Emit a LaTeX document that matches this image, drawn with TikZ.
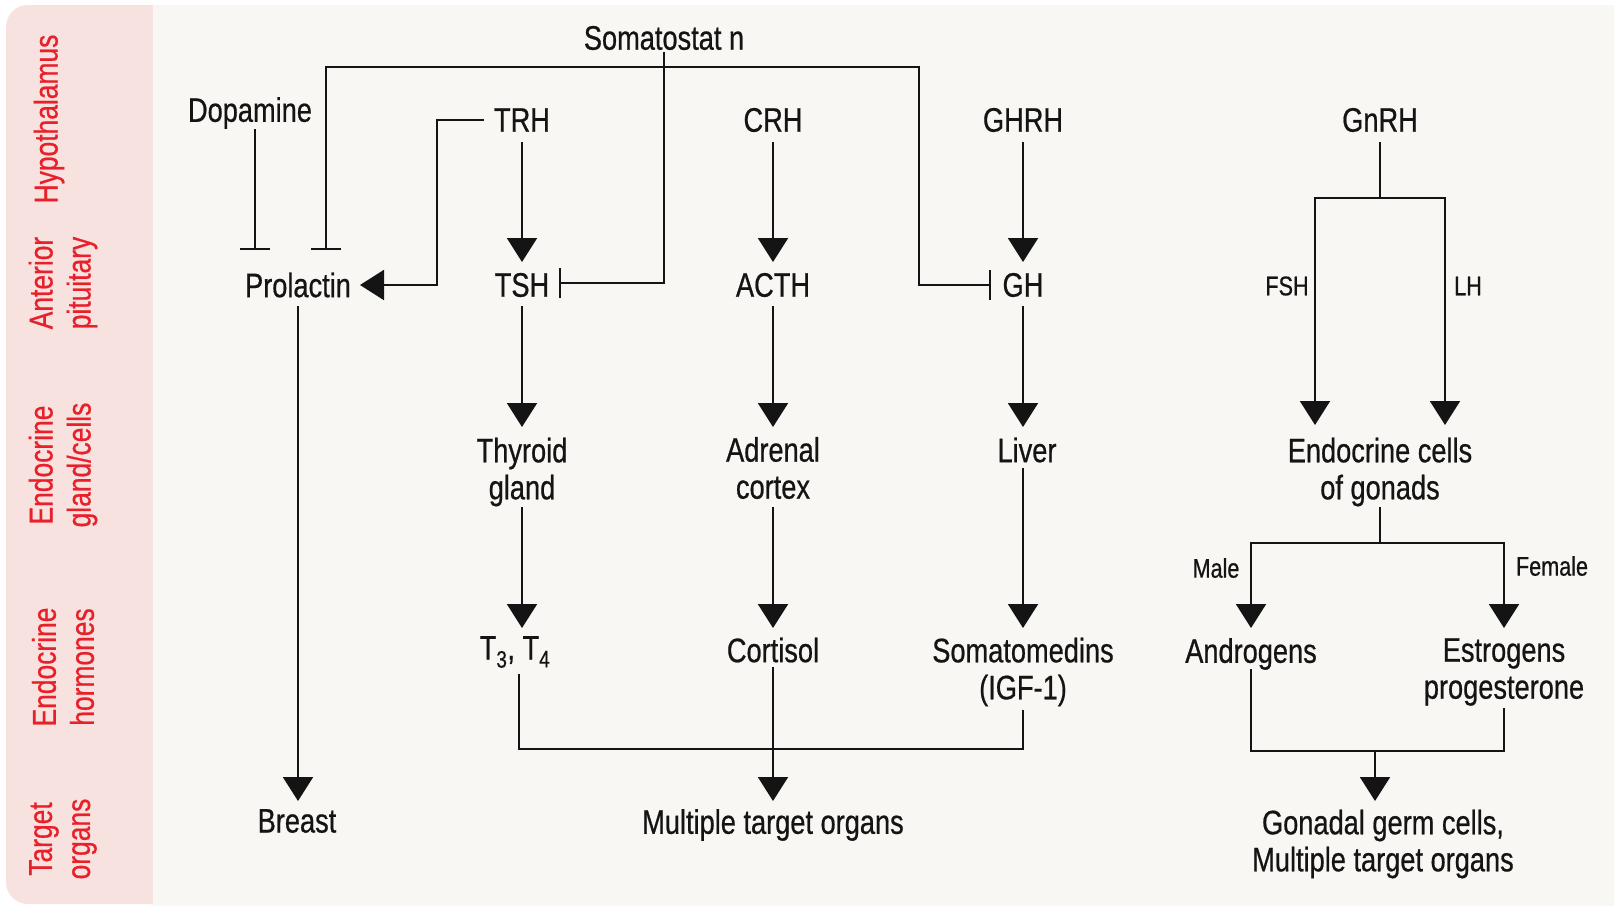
\documentclass[tikz,border=0pt]{standalone}
\usepackage{fontspec}
\setmainfont{Liberation Sans}[FakeStretch=0.8,FakeBold=0.6]
\usetikzlibrary{arrows.meta,calc}
\definecolor{bgc}{HTML}{F8F7F3}
\definecolor{pinkc}{HTML}{F8E2DF}
\definecolor{redc}{HTML}{E8202A}
\definecolor{inkc}{HTML}{141414}
\begin{document}
\begin{tikzpicture}[x=1pt,y=-1pt,
  lbl/.style={inner sep=0pt, font=\fontsize{34}{37}\selectfont, align=center, text=inkc},
  sml/.style={inner sep=0pt, font=\fontsize{27}{30}\selectfont, text=inkc},
  side/.style={inner sep=0pt, font=\fontsize{33}{38}\selectfont, align=center, text=redc, rotate=90},
  ln/.style={line width=2pt, draw=inkc},
  arr/.style={ln, -{Triangle[width=30pt,length=24pt]}},
  inh/.style={ln, -{Bar[width=30pt]}},
  inhtwo/.style={ln, {Bar[width=30pt]}-{Bar[width=30pt]}},
]
\useasboundingbox (0,0) rectangle (1614,906);
\fill[white] (0,0) rectangle (1614,906);
\fill[pinkc, rounded corners=22pt] (6,5) rectangle (200,904);
\fill[bgc] (153,5) rectangle (1614,906);

% side labels
\node[side] (s1) at (49,119) {Hypothalamus};
\node[side] (s2) at (63,283) {Anterior\\pituitary};
\node[side] (s3) at (63,465) {Endocrine\\gland/cells};
\node[side] (s4) at (63,667) {Endocrine\\hormones};
\node[side] (s5) at (63,839) {Target\\organs};

% nodes
\node[lbl] (som) at (664,38) {Somatostat n};
\node[lbl] (dop) at (250,113) {Dopamine};
\node[lbl] (trh) at (522,120) {TRH};
\node[lbl] (crh) at (773,120) {CRH};
\node[lbl] (ghrh) at (1023,120) {GHRH};
\node[lbl] (gnrh) at (1380,120) {GnRH};
\node[lbl] (prl) at (298,285) {Prolactin};
\node[lbl] (tsh) at (522,285) {TSH};
\node[lbl] (acth) at (773,285) {ACTH};
\node[lbl] (gh) at (1023,285) {GH};
\node[sml] (fsh) at (1287,286) {FSH};
\node[sml] (lh) at (1468,286) {LH};
\node[lbl] (thy) at (522,472) {Thyroid\\gland};
\node[lbl] (adr) at (773,468) {Adrenal\\cortex};
\node[lbl] (liv) at (1027,450) {Liver};
\node[lbl] (endo) at (1380,472) {Endocrine cells\\of gonads};
\node[sml] (male) at (1216,568) {Male};
\node[sml] (female) at (1552,566) {Female};
\node[lbl] (t34) at (515,652) {T\textsubscript{3}, T\textsubscript{4}};
\node[lbl] (cort) at (773,650) {Cortisol};
\node[lbl] (soma) at (1023,672) {Somatomedins\\(IGF-1)};
\node[lbl] (andr) at (1251,654) {Androgens};
\node[lbl] (estr) at (1504,672) {Estrogens\\progesterone};
\node[lbl] (breast) at (297,821) {Breast};
\node[lbl] (mto) at (773,825) {Multiple target organs};
\node[lbl] (ggc) at (1383,844) {Gonadal germ cells,\\Multiple target organs};

% inhibitory connectors
\draw[inh] ($(dop)+(5,16)$) -- ($(prl)+(-43,-35)$);
\draw[inhtwo] ($(prl)+(28,-35)$) -- (326,67) -- (919,67) -- (919,285) -- ($(gh)+(-32,0)$);
\draw[inh] ($(som)+(0,14)$) -- (664,283) -- ($(tsh)+(37,-2)$);

% stimulatory connectors
\draw[arr] ($(trh)+(-38,0)$) -- (437,120) -- (437,285) -- ($(prl)+(62,0)$);
\draw[arr] ($(trh)+(0,22)$) -- ($(tsh)+(0,-23)$);
\draw[arr] ($(crh)+(0,22)$) -- ($(acth)+(0,-23)$);
\draw[arr] ($(ghrh)+(0,22)$) -- ($(gh)+(0,-23)$);
\draw[arr] ($(tsh)+(0,21)$) -- ($(thy)+(0,-45)$);
\draw[arr] ($(acth)+(0,21)$) -- ($(adr)+(0,-41)$);
\draw[arr] ($(gh)+(0,21)$) -- ($(liv)+(-4,-23)$);
\draw[arr] ($(thy)+(0,35)$) -- ($(t34)+(7,-24)$);
\draw[arr] ($(adr)+(0,39)$) -- ($(cort)+(0,-22)$);
\draw[arr] ($(liv)+(-4,18)$) -- ($(soma)+(0,-44)$);
\draw[ln] ($(t34)+(4,22)$) -- (519,749) -| ($(soma)+(0,38)$);
\draw[arr] ($(cort)+(0,17)$) -- ($(mto)+(0,-24)$);
\draw[arr] ($(prl)+(0,21)$) -- ($(breast)+(1,-20)$);

% gonadal axis
\draw[ln] ($(gnrh)+(0,22)$) -- (1380,198) coordinate (gsplit);
\draw[arr] (gsplit) -| ($(endo)+(-65,-47)$);
\draw[arr] (gsplit) -| ($(endo)+(65,-47)$);
\draw[ln] ($(endo)+(0,35)$) -- (1380,543) coordinate (esplit);
\draw[arr] (esplit) -| ($(andr)+(0,-26)$);
\draw[arr] (esplit) -| ($(estr)+(0,-44)$);
\draw[ln] ($(andr)+(0,15)$) -- (1251,751) -- (1504,751) -- ($(estr)+(0,36)$);
\coordinate (gjoin) at (1375,751);
\draw[arr] (gjoin) -- ($(ggc)+(-8,-43)$);
\end{tikzpicture}
\end{document}
